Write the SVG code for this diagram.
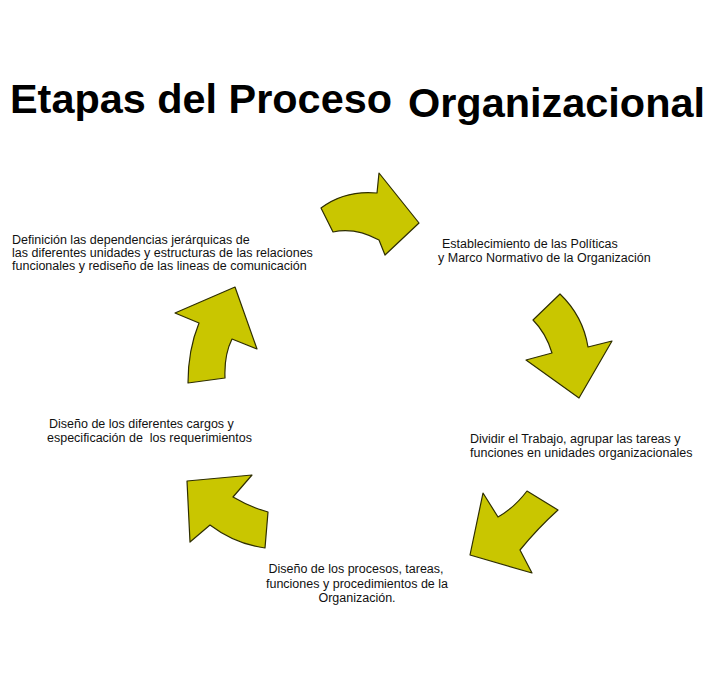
<svg xmlns="http://www.w3.org/2000/svg" width="722" height="681" viewBox="0 0 722 681">
<style>
.arrow{fill:#c9c600;stroke:#2e2e00;stroke-width:1.2;stroke-linejoin:round}
.title{font-family:"Liberation Sans Narrow","Liberation Sans",Arial,sans-serif;font-weight:bold;font-size:40px;fill:#000}
.lbl{font-family:"Liberation Sans",Arial,sans-serif;font-size:12.5px;fill:#111;white-space:pre}
</style>
<rect width="722" height="681" fill="#fff"/>
<g id="title">
<text class="title" x="10" y="113" textLength="382" lengthAdjust="spacingAndGlyphs">Etapas del Proceso</text>
<text class="title" x="408" y="117" textLength="297" lengthAdjust="spacingAndGlyphs">Organizacional</text>
</g>
<g id="connectors">
<path class="arrow" d="M321,208 Q345,190 377,193 L379,173 L419,223 L385,255 L379,240 Q355,227 333,232 Z"/>
<path class="arrow" d="M560,294 Q583,316 588,347 L612,341 L579,398 L526,360 L552,353 Q546,333 533,320 Z"/>
<path class="arrow" d="M483,493 L498,517 Q514,508 527,491 L558,510 Q538,528 520,550 L532,573 L470,555 Z"/>
<path class="arrow" d="M187,481 L252,475 L233,497 Q250,507 268,512 L265,548 Q235,544 210,525 L190,542 Z"/>
<path class="arrow" d="M175,313 L235,287 L257,349 L232,339 Q224,355 225,378 L188,383 Q188,350 199,323 Z"/>
</g>
<g id="n1">
<text class="lbl" x="442" y="248">Establecimiento de las Políticas</text>
<text class="lbl" x="438" y="262">y Marco Normativo de la Organización</text>
</g>
<g id="n2">
<text class="lbl" x="470" y="443">Dividir el Trabajo, agrupar las tareas y</text>
<text class="lbl" x="470" y="457">funciones en unidades organizacionales</text>
</g>
<g id="n3">
<text class="lbl" x="356" y="573" text-anchor="middle">Diseño de los procesos, tareas,</text>
<text class="lbl" x="357" y="588" text-anchor="middle">funciones y procedimientos de la</text>
<text class="lbl" x="357" y="602" text-anchor="middle">Organización.</text>
</g>
<g id="n4">
<text class="lbl" x="49" y="428">Diseño de los diferentes cargos y</text>
<text class="lbl" x="47" y="442">especificación de  los requerimientos</text>
</g>
<g id="n5">
<text class="lbl" x="12" y="244">Definición las dependencias jerárquicas de</text>
<text class="lbl" x="12" y="257">las diferentes unidades y estructuras de las relaciones</text>
<text class="lbl" x="12" y="270">funcionales y rediseño de las lineas de comunicación</text>
</g>
</svg>
